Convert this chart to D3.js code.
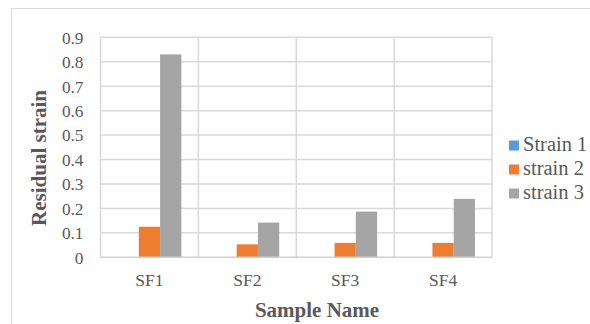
<!DOCTYPE html>
<html>
<head>
<meta charset="utf-8">
<script src="https://cdn.jsdelivr.net/npm/d3@7/dist/d3.min.js"></script>
<style>
  html, body { margin: 0; padding: 0; background: #fff; }
  svg { display: block; }
  text { font-family: "Liberation Serif", "Times New Roman", serif; }
</style>
</head>
<body>
<svg id="chart" width="590" height="324"></svg>
<script>
// Residual strain per sample, three strain series
const categories = ["SF1", "SF2", "SF3", "SF4"];
const seriesNames = ["Strain 1", "strain 2", "strain 3"];
const strain1 = [0, 0, 0, 0];
const strain2 = [0.125, 0.053, 0.059, 0.059];
const strain3 = [0.83, 0.142, 0.187, 0.239];
const yTicks = [0, 0.1, 0.2, 0.3, 0.4, 0.5, 0.6, 0.7, 0.8, 0.9];
const colors = ["#5B9BD5", "#ED7D31", "#A5A5A5"];

const seriesValues = [strain1, strain2, strain3];
const rows = categories.map((c, i) => ({
  cat: c,
  vals: seriesValues.map((s, k) => ({ key: seriesNames[k], value: s[i], k }))
}));

const svg = d3.select("#chart");
const plot = { left: 100.5, right: 492, top: 37.3, bottom: 257.3 };
const textColor = "#595959";
const serif = "Liberation Serif, Times New Roman, serif";

// outer chart frame
svg.append("rect")
  .attr("x", 11.5).attr("y", 8.5)
  .attr("width", 700).attr("height", 400)
  .attr("fill", "none").attr("stroke", "#d9d9d9").attr("stroke-width", 1);

const x = d3.scaleBand().domain(categories).range([plot.left, plot.right]).padding(0);
const y = d3.scaleLinear().domain([0, 0.9]).range([plot.bottom, plot.top]);
const xInner = d3.scaleBand().domain(seriesNames)
  .range([0, x.bandwidth()]).paddingInner(0).paddingOuter(0.8);

// horizontal gridlines
svg.append("g").selectAll("line").data(yTicks.slice(1)).join("line")
  .attr("x1", plot.left).attr("x2", plot.right)
  .attr("y1", d => y(d)).attr("y2", d => y(d))
  .attr("stroke", "#d9d9d9").attr("stroke-width", 1.5);

// vertical gridlines at category boundaries
const bounds = categories.map(c => x(c)).concat([x(categories[categories.length - 1]) + x.bandwidth()]);
svg.append("g").selectAll("line").data(bounds).join("line")
  .attr("x1", d => d).attr("x2", d => d)
  .attr("y1", plot.top).attr("y2", plot.bottom)
  .attr("stroke", "#d9d9d9").attr("stroke-width", 1.5);

// bars
svg.append("g").selectAll("g").data(rows).join("g")
  .attr("transform", d => `translate(${x(d.cat)},0)`)
  .selectAll("rect").data(d => d.vals).join("rect")
  .attr("x", d => xInner(d.key))
  .attr("width", xInner.bandwidth())
  .attr("y", d => y(d.value))
  .attr("height", d => y(0) - y(d.value))
  .attr("fill", d => colors[d.k]);

// baseline
svg.append("line")
  .attr("x1", plot.left).attr("x2", plot.right)
  .attr("y1", plot.bottom).attr("y2", plot.bottom)
  .attr("stroke", "#d0d0d0").attr("stroke-width", 1.5);

// y axis labels
const yAxis = d3.axisLeft(y).tickValues(yTicks).tickSize(0).tickPadding(0)
  .tickFormat(d => d === 0 ? "0" : d3.format(".1f")(d));
const gy = svg.append("g").attr("transform", `translate(83.5,0)`).call(yAxis);
gy.select(".domain").remove();
gy.selectAll("text")
  .attr("font-family", serif)
  .attr("font-size", 17.3).attr("fill", textColor).attr("dy", "0.34em");

// x axis labels
const xAxis = d3.axisBottom(x).tickSize(0).tickPadding(0);
const gx = svg.append("g").attr("transform", `translate(0,${plot.bottom})`).call(xAxis);
gx.select(".domain").remove();
gx.selectAll("text")
  .attr("font-family", serif)
  .attr("font-size", 17.5).attr("fill", textColor)
  .attr("y", 28.7).attr("dy", null);

// axis titles
svg.append("text")
  .attr("transform", `translate(45.5,158) rotate(-90)`)
  .attr("text-anchor", "middle")
  .attr("font-family", serif)
  .attr("font-size", 21).attr("font-weight", "bold").attr("fill", textColor)
  .text("Residual strain");

svg.append("text")
  .attr("x", 317).attr("y", 317)
  .attr("text-anchor", "middle")
  .attr("font-family", serif)
  .attr("font-size", 21).attr("font-weight", "bold").attr("fill", textColor)
  .text("Sample Name");

// legend
const legend = svg.append("g").attr("transform", "translate(509,140.5)");
const li = legend.selectAll("g").data(seriesNames).join("g")
  .attr("transform", (d, i) => `translate(0,${i * 24})`);
li.append("rect").attr("width", 10).attr("height", 10).attr("fill", (d, i) => colors[i]);
li.append("text").attr("x", 14).attr("y", 10.2)
  .attr("font-family", serif)
  .attr("font-size", 20.5).attr("fill", textColor).text(d => d);
</script>
</body>
</html>
